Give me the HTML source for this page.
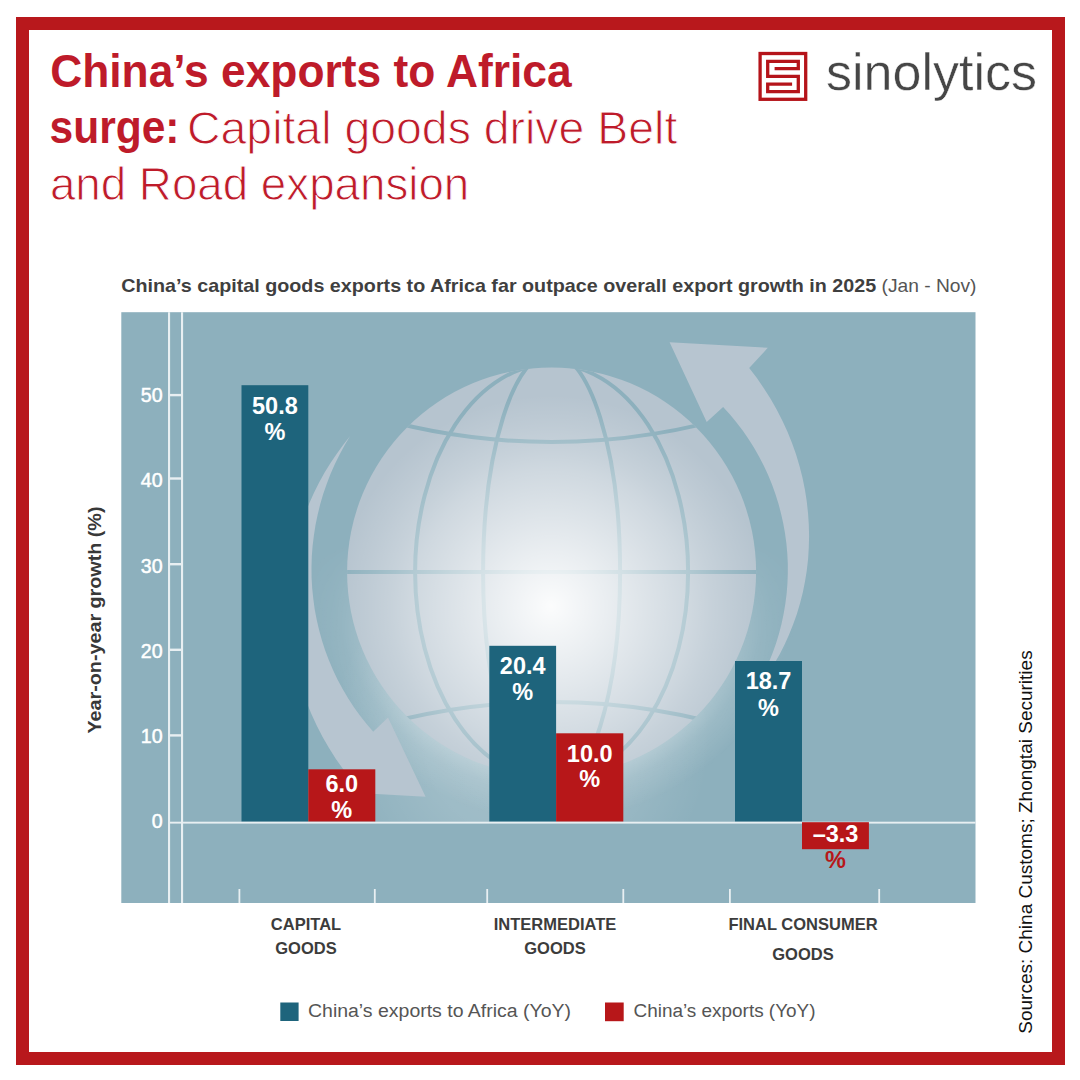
<!DOCTYPE html>
<html><head><meta charset="utf-8"><style>
html,body{margin:0;padding:0;background:#fff;}
body{width:1080px;height:1080px;overflow:hidden;position:relative;font-family:"Liberation Sans",sans-serif;}
svg{position:absolute;left:0;top:0;}
text{font-family:"Liberation Sans",sans-serif;}
.t1{font-size:46px;font-weight:bold;fill:#be1b2a;}
.t2{font-size:47px;fill:#be1b2a;stroke:#fff;stroke-width:1.0px;}
.st{font-size:17.7px;font-weight:bold;fill:#3f3f3f;}
.st2{font-size:17.7px;fill:#555;}
.yl{font-size:19.6px;fill:#fff;stroke:#fff;stroke-width:0.5px;}
.bl{font-size:23.5px;font-weight:bold;text-anchor:middle;}
.cat{font-size:16.5px;font-weight:bold;fill:#3c3c3c;text-anchor:middle;}
.lg{font-size:18px;fill:#555;}
.yax{font-size:19px;font-weight:bold;fill:#383838;}
.src{font-size:19px;fill:#111;}
.logo{font-size:52px;fill:#464646;stroke:#fff;stroke-width:0.45px;}
</style></head><body>
<svg width="1080" height="1080" viewBox="0 0 1080 1080">
<defs>
<radialGradient id="gg" gradientUnits="userSpaceOnUse" cx="551" cy="610" r="215" fx="551" fy="606">
<stop offset="0" stop-color="#fff" stop-opacity="0.95"/>
<stop offset="0.26" stop-color="#fff" stop-opacity="0.71"/>
<stop offset="0.65" stop-color="#fff" stop-opacity="0.34"/>
<stop offset="0.745" stop-color="#fff" stop-opacity="0.23"/>
<stop offset="0.87" stop-color="#fff" stop-opacity="0.11"/>
<stop offset="1" stop-color="#fff" stop-opacity="0"/>
</radialGradient>
<radialGradient id="glow" gradientUnits="userSpaceOnUse" cx="520" cy="740" r="190">
<stop offset="0" stop-color="#fff" stop-opacity="0.2"/>
<stop offset="0.5" stop-color="#fff" stop-opacity="0.15"/>
<stop offset="1" stop-color="#fff" stop-opacity="0"/>
</radialGradient>
<radialGradient id="halo" gradientUnits="userSpaceOnUse" cx="551.6" cy="572.0" r="250">
<stop offset="0.8" stop-color="#fff" stop-opacity="0.3"/>
<stop offset="0.88" stop-color="#fff" stop-opacity="0.13"/>
<stop offset="1" stop-color="#fff" stop-opacity="0"/>
</radialGradient>
<linearGradient id="hm" gradientUnits="userSpaceOnUse" x1="0" y1="540" x2="0" y2="720">
<stop offset="0" stop-color="#fff" stop-opacity="0"/>
<stop offset="1" stop-color="#fff" stop-opacity="1"/>
</linearGradient>
<mask id="hmask" maskUnits="userSpaceOnUse" x="0" y="0" width="1080" height="1080"><rect x="0" y="0" width="1080" height="1080" fill="url(#hm)"/></mask>
<clipPath id="gc"><circle cx="551.6" cy="572.0" r="204.5"/></clipPath>
<clipPath id="cc"><rect x="121.3" y="312.2" width="854.2" height="510"/></clipPath>
</defs>
<!-- frame -->
<rect x="22.5" y="23.5" width="1036" height="1035" fill="none" stroke="#b8181c" stroke-width="13"/>
<!-- title -->
<text x="50.2" y="87" class="t1" textLength="521.5" lengthAdjust="spacingAndGlyphs">China&#8217;s exports to Africa</text>
<text x="49.5" y="143" class="t1" textLength="130" lengthAdjust="spacingAndGlyphs">surge:</text>
<text x="187" y="143.6" class="t2" textLength="490.3" lengthAdjust="spacingAndGlyphs">Capital goods drive Belt</text>
<text x="49.9" y="200.4" class="t2" textLength="419.4" lengthAdjust="spacingAndGlyphs">and Road expansion</text>
<!-- logo -->
<g fill="none" stroke="#b5141a" stroke-width="3.3">
<rect x="760.1" y="53.5" width="45.6" height="45.8"/>
<path d="M774.6,68.6 H798.3 V61.4 H767.7 V76.4 H798.3 V91.7 H767.7 V84.2 H792.1"/>
</g>
<text x="826" y="90.2" class="logo">sinolytics</text>
<!-- subtitle -->
<text x="121.2" y="291.6" class="st" textLength="755" lengthAdjust="spacingAndGlyphs">China&#8217;s capital goods exports to Africa far outpace overall export growth in 2025</text>
<text x="881.5" y="291.6" class="st2" textLength="95" lengthAdjust="spacingAndGlyphs">(Jan - Nov)</text>
<!-- chart bg -->
<rect x="121.3" y="312.2" width="854.2" height="590.8" fill="#8db0bd"/>
<g clip-path="url(#cc)">
<circle cx="520" cy="740" r="190" fill="url(#glow)"/>
<circle cx="551.6" cy="572.0" r="250" fill="url(#halo)" mask="url(#hmask)"/>
<path d="M350.1,436.1 L343.3,444.8 L336.8,453.7 L330.5,463.0 L324.6,472.5 L319.1,482.4 L314.1,492.5 L309.4,502.9 L305.1,513.6 L301.4,524.5 L298.1,535.6 L295.2,546.9 L292.9,558.4 L291.1,570.1 L289.8,581.9 L289.0,593.8 L288.7,605.8 L289.0,617.9 L289.9,630.0 L291.3,642.2 L293.2,654.3 L295.7,666.4 L298.8,678.4 L302.5,690.4 L306.6,702.2 L311.4,714.0 L316.7,725.5 L322.6,736.9 L329.0,748.0 L335.9,758.9 L343.4,769.6 L358.0,792.0 L376.3,794.0 L425.6,796.7 L388.0,717.6 L372.4,732.5 L373.1,731.6 L366.2,723.6 L359.7,715.3 L353.6,706.7 L347.8,697.8 L342.5,688.7 L337.5,679.4 L333.0,669.9 L328.8,660.1 L325.1,650.2 L321.9,640.2 L319.1,630.0 L316.7,619.7 L314.7,609.3 L313.3,598.8 L312.2,588.3 L311.6,577.8 L311.5,567.2 L311.8,556.6 L312.6,546.0 L313.9,535.5 L315.5,525.0 L317.7,514.6 L320.2,504.3 L323.2,494.1 L326.7,484.0 L330.5,474.1 L334.8,464.3 L339.5,454.7 L344.6,445.3 L350.1,436.1 Z" fill="#b7c5d0"/>
<path d="M749.2,368.1 L756.9,378.1 L764.0,388.4 L770.7,398.9 L776.8,409.7 L782.4,420.7 L787.5,431.8 L792.0,443.1 L796.1,454.6 L799.5,466.1 L802.5,477.7 L804.9,489.4 L806.7,501.1 L808.0,512.7 L808.8,524.4 L809.1,536.0 L808.8,547.6 L808.1,559.1 L806.8,570.4 L805.0,581.6 L802.8,592.6 L800.0,603.5 L796.8,614.2 L793.1,624.6 L789.0,634.8 L784.5,644.8 L779.6,654.4 L774.2,663.8 L768.5,672.9 L762.4,681.6 L756.0,690.0 L755.1,689.5 L760.1,680.7 L764.6,671.7 L768.8,662.5 L772.6,653.1 L776.0,643.5 L778.9,633.9 L781.5,624.0 L783.6,614.1 L785.3,604.1 L786.6,594.1 L787.4,584.0 L787.8,573.8 L787.8,563.7 L787.3,553.5 L786.4,543.4 L785.0,533.3 L783.2,523.3 L781.0,513.4 L778.4,503.5 L775.3,493.8 L771.9,484.2 L768.0,474.8 L763.7,465.5 L759.0,456.5 L753.9,447.6 L748.5,439.0 L742.7,430.6 L736.5,422.4 L730.0,414.6 L723.1,407.0 L706.7,421.9 L669.6,342.2 L767.8,347.8 Z" fill="#b7c5d0"/>
<circle cx="551.6" cy="572.0" r="204.5" fill="#b6c4cf"/>
<g clip-path="url(#gc)" fill="none" stroke="#8db0bd" stroke-width="4">
<ellipse cx="551.6" cy="572.0" rx="68.5" ry="219"/>
<ellipse cx="551.6" cy="572.0" rx="136.5" ry="208"/>
<line x1="342.1" y1="572.0" x2="761.1" y2="572.0"/>
<path d="M331.6,403.4 A647,647 0 0 0 771.6,403.4"/>
<path d="M331.6,740.6 A647,647 0 0 1 771.6,740.6"/>
</g>
<circle cx="551.6" cy="572.0" r="204.5" fill="url(#gg)"/>
</g>
<!-- axis -->
<g fill="#e8eff2">
<rect x="168" y="312.2" width="2.1" height="590.8"/>
<rect x="181" y="312.2" width="2.1" height="590.8"/>
<rect x="170" y="393.9" width="11" height="2.4"/>
<rect x="170" y="477.3" width="11" height="2.4"/>
<rect x="170" y="563.0" width="11" height="2.4"/>
<rect x="170" y="648.6" width="11" height="2.4"/>
<rect x="170" y="734.2" width="11" height="2.4"/>
<rect x="238.5" y="889" width="1.8" height="14"/>
<rect x="373.9" y="889" width="1.8" height="14"/>
<rect x="486.3" y="889" width="1.8" height="14"/>
<rect x="622.4" y="889" width="1.8" height="14"/>
<rect x="729.0" y="889" width="1.8" height="14"/>
<rect x="878.3" y="889" width="1.8" height="14"/>
</g>
<text x="162.6" y="402.4" text-anchor="end" class="yl">50</text>
<text x="162.6" y="487.3" text-anchor="end" class="yl">40</text>
<text x="162.6" y="573.0" text-anchor="end" class="yl">30</text>
<text x="162.6" y="658.0" text-anchor="end" class="yl">20</text>
<text x="162.6" y="742.8" text-anchor="end" class="yl">10</text>
<text x="162.6" y="828.3" text-anchor="end" class="yl">0</text>
<rect x="241.5" y="385.2" width="66.8" height="436.5" fill="#1e647c"/>
<rect x="308.3" y="769.3" width="67.0" height="52.4" fill="#b71719"/>
<rect x="489.3" y="645.8" width="66.8" height="175.9" fill="#1e647c"/>
<rect x="556.1" y="733.3" width="67.2" height="88.4" fill="#b71719"/>
<rect x="735.0" y="661.0" width="67.0" height="160.7" fill="#1e647c"/>
<rect x="168" y="821.7" width="807.5" height="1.9" fill="#e8eff2"/>
<rect x="802.0" y="822.2" width="66.9" height="27" fill="#b71719"/>
<text x="274.9" y="413.7" class="bl" fill="#fff">50.8</text><text x="274.9" y="440.2" class="bl" fill="#fff">%</text><text x="341.8" y="792.2" class="bl" fill="#fff">6.0</text><text x="341.8" y="818.0" class="bl" fill="#fff">%</text><text x="522.7" y="674.2" class="bl" fill="#fff">20.4</text><text x="522.7" y="700.4" class="bl" fill="#fff">%</text><text x="589.7" y="761.7" class="bl" fill="#fff">10.0</text><text x="589.7" y="786.5" class="bl" fill="#fff">%</text><text x="768.5" y="688.9" class="bl" fill="#fff">18.7</text><text x="768.5" y="715.6" class="bl" fill="#fff">%</text><text x="835.5" y="842.2" class="bl" fill="#fff">&#8211;3.3</text><text x="835.5" y="868.4" class="bl" fill="#b71719">%</text>
<!-- categories -->
<text x="306" y="929.7" class="cat">CAPITAL</text>
<text x="306" y="953.5" class="cat">GOODS</text>
<text x="555" y="929.7" class="cat">INTERMEDIATE</text>
<text x="555" y="953.5" class="cat">GOODS</text>
<text x="803" y="929.7" class="cat">FINAL CONSUMER</text>
<text x="803" y="959.5" class="cat">GOODS</text>
<!-- legend -->
<rect x="280.3" y="1002.5" width="18.3" height="18.5" fill="#1e647c"/>
<text x="308" y="1017.2" class="lg" textLength="263" lengthAdjust="spacingAndGlyphs">China&#8217;s exports to Africa (YoY)</text>
<rect x="605" y="1002.5" width="18.7" height="18.7" fill="#b71719"/>
<text x="633.5" y="1017.2" class="lg" textLength="182" lengthAdjust="spacingAndGlyphs">China&#8217;s exports (YoY)</text>
<!-- y axis title -->
<text transform="translate(100.6,733.5) rotate(-90)" class="yax" textLength="227" lengthAdjust="spacingAndGlyphs">Year-on-year growth (%)</text>
<!-- source -->
<text transform="translate(1032,1033.7) rotate(-90)" class="src">Sources: China Customs; Zhongtai Securities</text>
</svg>
</body></html>
